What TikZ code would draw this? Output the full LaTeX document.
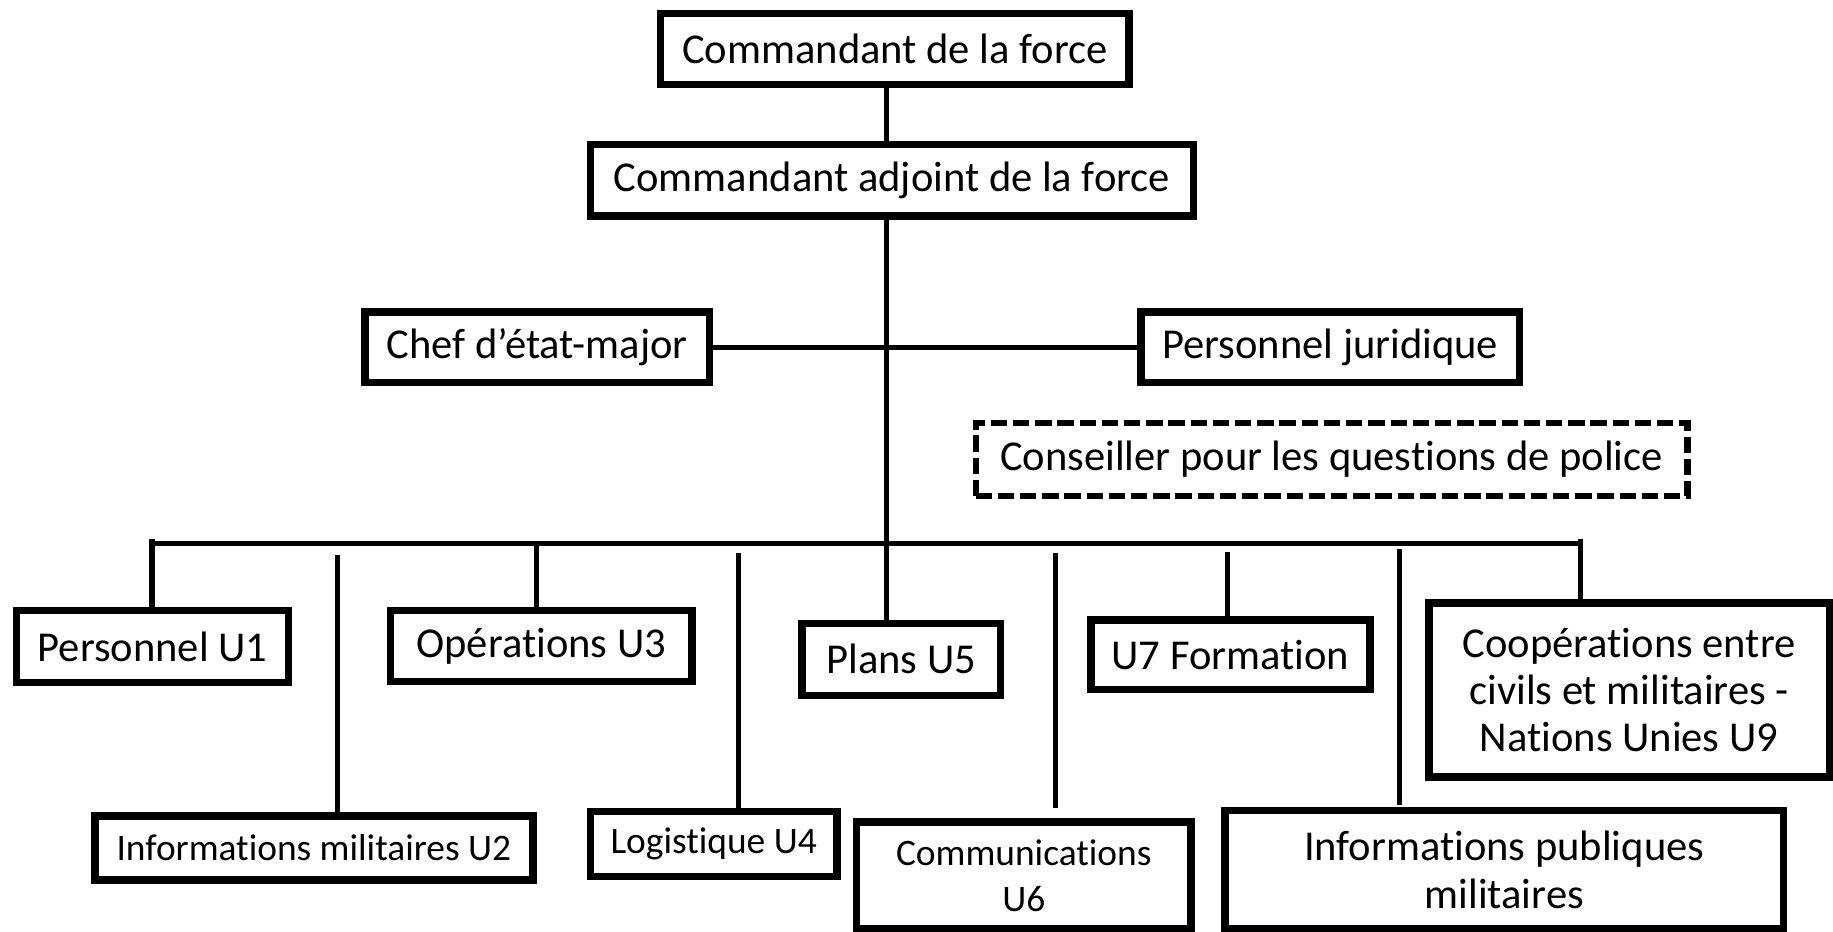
\documentclass[tikz,border=0pt]{standalone}
\usepackage{fontspec}
\setmainfont{Carlito}[Ligatures={NoCommon}]
\begin{document}
\begin{tikzpicture}[x=0.5pt,y=-0.5pt,
  box/.style={draw, line width=3.2pt, inner sep=0pt, align=center,
    font=\fontsize{18.2pt}{20pt}\selectfont},
  smallbox/.style={box, font=\fontsize{16pt}{19.5pt}\selectfont},
  dbox/.style={box, line width=2.6pt, dash pattern=on 7pt off 2.5pt},
  sz/.style 2 args={minimum width=#1*0.5pt, minimum height=#2*0.5pt},
  link/.style={line width=2.2pt}]
\useasboundingbox (0,0) rectangle (1568,797);

\node[box, sz={400.6}{60.5}] (top) at (765.5,42) {Commandant de la force};
\node[box, sz={515.6}{61}] (adj) at (763,154.25) {Commandant adjoint de la force};
\node[box, sz={294.6}{60.6}] (chef) at (459.5,297) {Chef d’état-major};
\node[box, sz={323.6}{60.6}] (jur) at (1138,297) {Personnel juridique};
\node[dbox, sz={609}{63}] (cons) at (1139,393) {Conseiller pour les questions de police};

\node[box, sz={232.6}{61.6}] (u1) at (130.5,553) {Personnel U1};
\node[box, sz={257.6}{60.6}] (u3) at (463,552.5) {Opérations U3};
\node[box, sz={169.6}{61.6}] (plans) at (771,564) {Plans U5};
\node[box, sz={238.6}{59.6}] (u7) at (1052.5,560) {U7 Formation};
\node[box, sz={342.6}{149}] (coop) at (1393.5,590.3) {Coopérations entre\\civils et militaires -\\Nations Unies U9};

\node[smallbox, sz={374.6}{54.6}] (u2) at (268.5,725.5) {Informations militaires U2};
\node[smallbox, sz={210.6}{55.6}] (u4) at (610.5,722) {Logistique U4};
\node[smallbox, sz={286}{91.6}] (u6) at (875.75,749) {Communications\\U6};
\node[box, font=\fontsize{18.2pt}{20.5pt}\selectfont, sz={478}{101.6}] (ipm) at (1286.75,744) {Informations publiques\\militaires};

% trunk
\coordinate (tx) at (758,0);
\draw[link] (top.south -| tx) -- (adj.north -| tx);
\draw[link] (adj.south -| tx) -- (plans.north -| tx);
\draw[link] (chef.east) -- (jur.west);

% bus
\coordinate (busL) at (130,465);
\coordinate (busR) at (1352,465);
\draw[link] (busL) -- (busR);
\coordinate (t1) at (130,461);
\coordinate (d3) at (459,465);
\coordinate (t9) at (1352,461);
\draw[link] (t1) -- (t1 |- u1.north);
\draw[link] (d3) -- (d3 |- u3.north);
\draw[link] (t9) -- (t9 |- coop.north);

% vertical lines not joined to the bus
\coordinate (f7) at (1050,472);
\coordinate (f2) at (289,475);
\coordinate (f4) at (632,473);
\coordinate (f6) at (903,473);
\coordinate (e6) at (903,691);
\coordinate (f8) at (1197,470);
\coordinate (e8) at (1197,689);
\draw[link] (f7) -- (f7 |- u7.north);
\draw[link] (f2) -- (f2 |- u2.north);
\draw[link] (f4) -- (f4 |- u4.north);
\draw[link] (f6) -- (e6);
\draw[link] (f8) -- (e8);
\end{tikzpicture}
\end{document}
